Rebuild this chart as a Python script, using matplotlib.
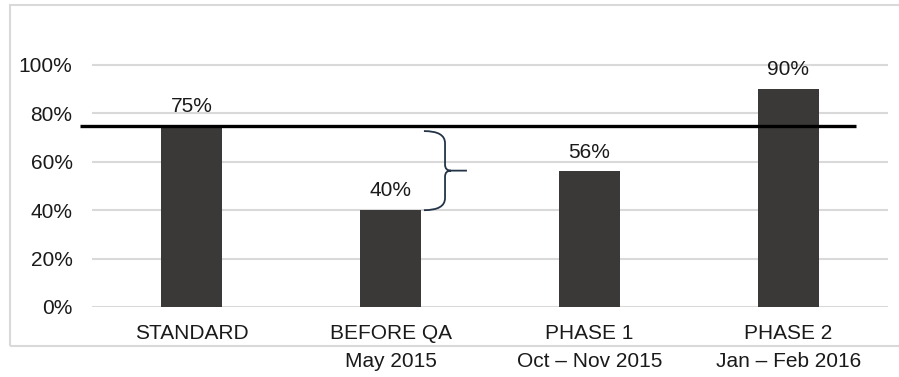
import matplotlib
matplotlib.use('Agg')
import matplotlib.pyplot as plt
from matplotlib.path import Path
from matplotlib.patches import PathPatch, Rectangle

plt.rcParams['font.family'] = ['Liberation Sans', 'DejaVu Sans']

categories = ['STANDARD', 'BEFORE QA\nMay 2015', 'PHASE 1\nOct – Nov 2015', 'PHASE 2\nJan – Feb 2016']
values = [0.75, 0.40, 0.56, 0.90]
value_labels = ['75%', '40%', '56%', '90%']
target = 0.75
yticks = [0, 0.2, 0.4, 0.6, 0.8, 1.0]
ytick_labels = ['0%', '20%', '40%', '60%', '80%', '100%']

W, H = 899, 377
fig = plt.figure(figsize=(W / 100, H / 100), dpi=100)

# light grey frame round the chart (right edge is cut off in the original)
fig.patches.append(Rectangle((10 / W, 1 - 346 / H), 1.0, (346 - 5) / H,
                             transform=fig.transFigure, fill=False,
                             edgecolor='#d9d9d9', linewidth=1.5, zorder=0))

ax = fig.add_axes([92 / W, (H - 307) / H, (888 - 92) / W, 1.2 * 242 / H])
x = list(range(len(categories)))
ax.bar(x, values, width=0.31, color='#3a3938', zorder=2)
ax.set_xlim(-0.5, 3.5)
ax.set_ylim(0, 1.2)

for xi, v, lab in zip(x, values, value_labels):
    ax.annotate(lab, (xi, v), xytext=(0, 7), textcoords='offset points',
                ha='center', va='bottom', fontsize=15, color='#1a1a1a')

# target line at 75%
ax.plot([-0.56, 3.34], [target, target], color='black', linewidth=2.4,
        solid_capstyle='butt', zorder=3, clip_on=False)

# curly brace between the 40% bar and the target
x0, xs, xt = 1.168, 1.274, 1.384
top, bot = 0.727, values[1]
mid = (top + bot) / 2
verts = [(x0, top), (xs, top), (xs, top - 0.05),
         (xs, mid + 0.025), (xs, mid), (xs + 0.03, mid),
         (xt, mid),
         (xs + 0.03, mid), (xs, mid), (xs, mid - 0.025),
         (xs, bot + 0.05), (xs, bot), (x0, bot)]
codes = [Path.MOVETO, Path.CURVE3, Path.CURVE3,
         Path.LINETO, Path.CURVE3, Path.CURVE3,
         Path.LINETO,
         Path.MOVETO, Path.CURVE3, Path.CURVE3,
         Path.LINETO, Path.CURVE3, Path.CURVE3]
ax.add_patch(PathPatch(Path(verts, codes), fill=False, edgecolor='#243447',
                       linewidth=1.3, zorder=3))

ax.set_yticks(yticks)
ax.set_yticklabels(ytick_labels)
ax.set_xticks(x)
ax.set_xticklabels(categories, linespacing=1.6)
ax.tick_params(axis='y', length=0, pad=14, labelsize=15, labelcolor='#1a1a1a')
ax.tick_params(axis='x', length=0, pad=12, labelsize=15, labelcolor='#1a1a1a')
for lab in ax.get_xticklabels():
    lab.set_verticalalignment('top')

ax.grid(axis='y', color='#d9d9d9', linewidth=1.5, zorder=0)
ax.set_axisbelow(True)
for s in ax.spines.values():
    s.set_visible(False)

fig.savefig('out.png', dpi=100)
